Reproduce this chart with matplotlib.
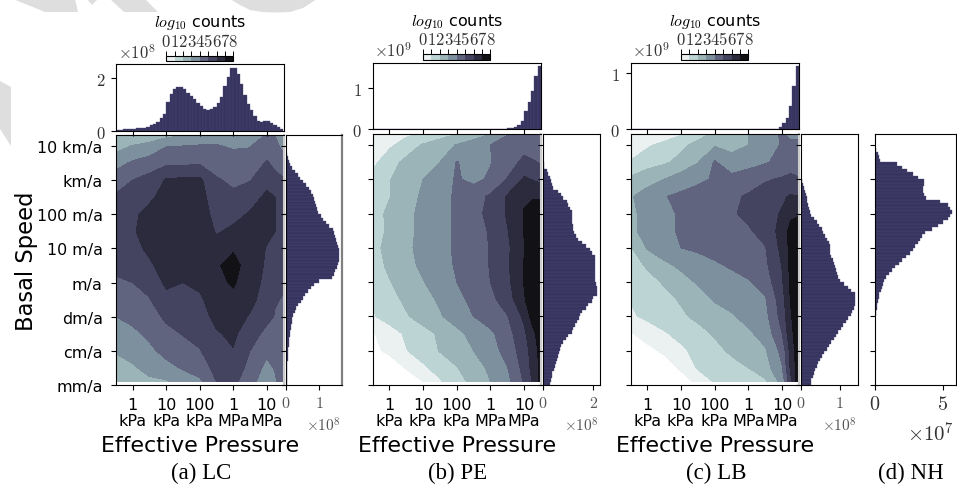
import numpy as np
import matplotlib
matplotlib.use("Agg")
import matplotlib.pyplot as plt
from matplotlib.colors import ListedColormap, BoundaryNorm
from matplotlib.patches import Polygon

plt.rcParams['font.family'] = 'DejaVu Sans'
plt.rcParams['mathtext.fontset'] = 'cm'

W, H = 957, 489

# grid of the contour data: log10 kPa across, decades above mm/a up
pressure = [-0.5, 0, 0.5, 1, 1.5, 2, 2.5, 3, 3.5, 4, 4.25, 4.5]
speed = [0.1, 0.5, 1, 1.5, 2, 2.5, 3, 3.5, 4, 4.5, 5, 5.5, 6, 6.5, 7, 7.32]

x_ticks = [0, 1, 2, 3, 4]
x_labels = ['1\nkPa', '10\nkPa', '100\nkPa', '1\nMPa', '10\nMPa']
y_ticks = [0, 1, 2, 3, 4, 5, 6, 7]
y_labels = ['mm/a', 'cm/a', 'dm/a', 'm/a', '10 m/a', '100 m/a', 'km/a', '10 km/a']
levels = [0, 1, 2, 3, 4, 5, 6, 7, 8]
band_colors = ['#eaf1f0', '#bcd5d4', '#9ab4b7', '#7d909d', '#61647f', '#454460', '#2c2b3d', '#111116']

# LC written column by column
lc_cols = [
    [2.4, 2.6, 3.08, 3.5, 4.0, 4.4, 4.85, 5.25, 5.5, 5.6, 5.5, 5.15, 4.5, 3.65, 2.6, 1.9],
    [2.6, 2.9, 3.3, 3.8, 4.25, 4.6, 5.0, 5.3, 5.7, 5.9, 5.85, 5.4, 5.0, 4.15, 3.05, 2.1],
    [2.85, 3.25, 3.8, 4.2, 4.55, 4.95, 5.3, 5.85, 6.2, 6.4, 6.25, 5.85, 5.3, 4.55, 3.2, 2.6],
    [2.9, 3.7, 4.3, 4.7, 5.2, 5.7, 6.2, 6.4, 6.6, 6.6, 6.5, 6.3, 6.1, 4.8, 3.95, 2.7],
    [3.4, 4.1, 4.6, 5.05, 5.3, 5.6, 6.0, 6.4, 6.7, 6.7, 6.6, 6.4, 6.2, 4.8, 4.0, 2.9],
    [3.8, 4.5, 4.95, 5.3, 5.55, 5.85, 6.2, 6.6, 6.8, 6.7, 6.6, 6.4, 6.2, 4.9, 4.1, 3.05],
    [5.0, 5.3, 5.5, 5.9, 6.3, 6.5, 6.8, 6.9, 6.4, 5.9, 5.6, 5.4, 5.1, 4.6, 4.05, 3.7],
    [5.2, 5.6, 5.95, 6.2, 6.5, 6.8, 7.1, 7.3, 6.9, 6.2, 5.7, 5.2, 4.8, 4.4, 3.9, 3.6],
    [4.5, 4.7, 5.0, 5.4, 5.9, 6.3, 6.5, 6.6, 6.5, 6.3, 6.1, 5.6, 4.95, 4.4, 3.95, 3.6],
    [3.2, 3.7, 4.25, 4.75, 5.25, 5.5, 5.7, 5.85, 5.95, 6.2, 6.3, 6.2, 5.7, 5.1, 4.5, 4.05],
    [3.8, 4.1, 4.4, 4.7, 4.95, 5.05, 5.4, 5.6, 5.9, 6.0, 6.0, 6.0, 5.3, 4.75, 4.3, 3.95],
    [5.0, 4.9, 4.7, 4.7, 4.8, 4.95, 5.1, 5.2, 5.3, 5.4, 5.4, 5.3, 5.1, 4.4, 3.7, 3.3],
]

# PE and LB written row by row, bottom row first
pe_rows = [
    [-2, -2, -1, 0, 0.9, 1.6, 2.3, 3, 3.7, 5.1, 6.1, 7.3],
    [-2, -1, 0.1, 0.8, 1.4, 1.95, 2.55, 3.2, 3.95, 5.35, 6.3, 7.3],
    [-0.4, 0.35, 0.95, 1.5, 2.05, 2.5, 3, 3.6, 4.35, 5.55, 6.4, 7.4],
    [-0.1, 0.55, 1.15, 1.65, 2.15, 2.75, 3.3, 3.8, 4.6, 5.8, 6.7, 7.6],
    [0.9, 1.4, 1.9, 2.4, 2.9, 3.45, 4, 4.5, 4.95, 6.2, 7.4, 7.8],
    [1.05, 1.65, 2.2, 2.65, 3.15, 3.75, 4.25, 4.75, 5.5, 6.9, 7.7, 7.9],
    [1.5, 1.95, 2.45, 2.95, 3.5, 4, 4.5, 5, 5.75, 7.05, 7.7, 7.9],
    [1.55, 2.2, 2.7, 3.2, 3.65, 4.1, 4.55, 5.05, 5.85, 7.05, 7.7, 7.9],
    [1.7, 2.3, 2.8, 3.3, 3.7, 4.15, 4.6, 5.05, 5.8, 6.95, 7.5, 7.8],
    [1.6, 2.15, 2.75, 3.25, 3.7, 4.15, 4.6, 5.1, 5.95, 7.05, 7.5, 7.7],
    [1.6, 2.2, 2.75, 3.25, 3.7, 4.15, 4.65, 5.3, 6.1, 7.05, 7.4, 7.6],
    [1.4, 1.95, 2.6, 3.15, 3.65, 4.15, 4.6, 5.15, 6.1, 6.9, 6.9, 6.9],
    [1.3, 1.95, 2.5, 3, 3.55, 4.1, 3.75, 4.15, 5.05, 6.15, 5.95, 5.7],
    [0.7, 1.6, 2.25, 2.6, 3, 4.05, 3.6, 3.95, 4.6, 5.2, 5.1, 4.9],
    [-0.1, 0.8, 1.45, 2.1, 2.6, 3.05, 3.5, 4, 4.4, 4.7, 4.5, 4.3],
    [0.3, 0.5, 0.8, 1.1, 1.5, 2, 2.5, 3, 3.95, 4.4, 4.3, 4.1],
]

lb_rows = [
    [-2, -2, -1.4, -0.6, 0.3, 1.1, 1.35, 1.6, 1.85, 3.4, 5.7, 7.8],
    [-2, -1.2, -0.6, 0.2, 1.1, 1.45, 1.7, 2, 2.55, 3.95, 6.15, 7.7],
    [-0.8, -0.3, 0.2, 0.8, 1.3, 1.75, 2.15, 2.5, 2.9, 4.3, 6.35, 7.7],
    [-0.1, 0.45, 0.9, 1.3, 1.7, 2.1, 2.5, 2.85, 3.35, 5, 6.7, 7.7],
    [0.85, 1.2, 1.5, 1.85, 2.2, 2.55, 2.9, 3.3, 3.7, 5.4, 6.9, 7.6],
    [1.05, 1.4, 1.75, 2.1, 2.6, 3.1, 3.35, 3.65, 3.9, 5.6, 7.05, 7.6],
    [1.3, 1.65, 2.1, 2.65, 3.1, 3.35, 3.6, 3.9, 4.45, 5.9, 7.2, 7.6],
    [1.5, 2.15, 2.8, 3.2, 3.5, 3.85, 4.15, 4.5, 4.8, 6.05, 7.25, 7.6],
    [1.9, 3.1, 3.55, 4, 4.2, 4.4, 4.55, 4.75, 4.95, 6.3, 7.3, 7.6],
    [2.8, 3.3, 3.8, 4.1, 4.3, 4.5, 4.7, 4.9, 5.35, 6.4, 7.3, 7.5],
    [2.8, 3.3, 3.8, 4.1, 4.35, 4.6, 4.9, 5.2, 5.6, 6.1, 6.8, 6.9],
    [2.9, 3.45, 3.95, 4.2, 4.4, 4.6, 4.85, 5.1, 5.45, 5.85, 6.1, 6],
    [2.2, 2.6, 3, 3.5, 3.8, 4.1, 4.35, 4.6, 4.9, 5.1, 5.2, 5.1],
    [1.1, 1.6, 1.85, 2.3, 2.95, 4.1, 3.3, 3.6, 3.9, 4.3, 4.6, 4.4],
    [0.2, 0.85, 1.3, 1.75, 2.3, 2.9, 2.75, 3, 3.5, 4.1, 4.3, 4.1],
    [0.1, -0.2, 0.4, 0.9, 1.6, 2.2, 2.6, 3, 3.6, 4.1, 3.7, 3.9],
]

# pressure histograms, bins 0.1 decade wide starting at -0.5
lc_top = [0.04, 0.05, 0.06, 0.07, 0.08, 0.09, 0.10, 0.11, 0.13, 0.15, 0.21, 0.25, 0.34, 0.49, 0.65, 1.09,
          1.41, 1.6, 1.67, 1.66, 1.57, 1.45, 1.32, 1.22, 1.07, 0.94, 0.84, 0.8, 0.82, 0.9, 1.07, 1.28,
          1.7, 2.04, 2.38, 2.38, 2.16, 1.79, 1.35, 1.03, 0.78, 0.57, 0.36, 0.34, 0.39, 0.39, 0.3, 0.21,
          0.15, 0.09]
pe_top = [0] * 39 + [0.008, 0.016, 0.03, 0.06, 0.10, 0.19, 0.45, 0.67, 0.93, 1.30, 1.54]
lb_top = [0] * 43 + [0.006, 0.03, 0.11, 0.19, 0.42, 0.77, 1.13]

# speed histograms, bins 0.1 decade wide starting at mm/a
lc_side = [0.02, 0.02, 0.03, 0.03, 0.03, 0.04, 0.04, 0.05, 0.05, 0.06,
           0.07, 0.08, 0.09, 0.10, 0.11, 0.12, 0.14, 0.15, 0.17, 0.19,
           0.22, 0.26, 0.31, 0.37, 0.45, 0.52, 0.58, 0.66, 0.74, 0.85,
           1.0, 1.37, 1.44, 1.48, 1.52, 1.56, 1.60, 1.6, 1.59, 1.58,
           1.55, 1.52, 1.5, 1.46, 1.44, 1.4, 1.3, 1.2, 1.1, 1.05,
           0.97, 0.93, 0.89, 0.87, 0.85, 0.82, 0.75, 0.68, 0.60, 0.52,
           0.42, 0.36, 0.28, 0.18, 0.12, 0.09, 0.05, 0.02, 0.01, 0]
pe_side = [0.29, 0.31, 0.34, 0.37, 0.43, 0.47, 0.50, 0.55, 0.60, 0.63,
           0.67, 0.72, 0.80, 0.90, 1.0, 1.13, 1.2, 1.28, 1.35, 1.42,
           1.47, 1.55, 1.7, 1.8, 1.93, 2.0, 2.13, 2.13, 2.13, 2.1,
           2.07, 2.05, 2.05, 2.05, 2.05, 2.05, 2.07, 2.07, 1.93, 1.85,
           1.7, 1.55, 1.4, 1.3, 1.22, 1.2, 1.18, 1.16, 1.15, 1.14,
           1.13, 1.08, 1.0, 0.95, 0.8, 0.72, 0.6, 0.4, 0.35, 0.3,
           0.27, 0.2, 0.14, 0.05, 0.02, 0.01, 0, 0, 0, 0]
lb_side = [0.25, 0.27, 0.30, 0.33, 0.36, 0.40, 0.44, 0.50, 0.55, 0.60,
           0.66, 0.72, 0.78, 0.84, 0.90, 0.96, 1.02, 1.08, 1.15, 1.22,
           1.28, 1.32, 1.36, 1.39, 1.39, 1.39, 1.38, 1.3, 1.22, 1.1,
           1.0, 0.96, 0.93, 0.90, 0.87, 0.85, 0.82, 0.78, 0.76, 0.75,
           0.74, 0.72, 0.68, 0.62, 0.57, 0.53, 0.47, 0.4, 0.33, 0.27,
           0.22, 0.2, 0.18, 0.16, 0.15, 0.14, 0.11, 0.08, 0.05, 0.03,
           0.01, 0.01, 0, 0, 0, 0, 0, 0, 0, 0]
nh_side = [0] * 20 + [0.07, 0.09, 0.12, 0.15, 0.2, 0.26, 0.33, 0.42, 0.5, 0.58,
           0.67, 0.85, 1.05, 1.23, 1.5, 1.75, 2.0, 2.3, 2.6, 2.8,
           2.96, 3.15, 3.3, 3.45, 3.7, 4.2, 4.7, 5.0, 5.4, 5.55,
           5.67, 5.55, 5.4, 4.8, 3.8, 3.65, 3.57, 3.57, 3.6, 3.62,
           3.2, 2.8, 2.34, 2.0, 1.6, 0.4, 0.32, 0.2, 0.05, 0.03,
           0.01, 0, 0, 0]

BAR = '#37345f'
BAR_EDGE = '#4d4b76'


def px_axes(fig, x0, y0, x1, y1):
    # pixel box, y measured from the top of the image
    return fig.add_axes([x0 / W, 1 - y1 / H, (x1 - x0) / W, (y1 - y0) / H])


def side_hist(ax, values, xmax, ticks, size=11.5, color='#555555'):
    edges = np.arange(len(values)) * 0.1
    ax.barh(edges, values, height=0.1, align='edge', color=BAR, edgecolor=BAR_EDGE, linewidth=0.25)
    ax.set_xlim(0, xmax)
    ax.set_ylim(0, 7.32)
    ax.set_yticks(y_ticks)
    ax.set_yticklabels([])
    ax.set_xticks(ticks)
    ax.set_xticklabels(['$%d$' % t for t in ticks], fontsize=size, color=color)


def panel(fig, grid, top, side, box, top_box, side_box, top_max, top_ticks, top_exp, side_max, side_ticks, caption, ylabels=False):
    ax = px_axes(fig, *box)
    # each panel gets its own norm, a shared one resets the other colorbars
    norm = BoundaryNorm(levels, cmap.N)
    cf = ax.contourf(pressure, speed, grid, levels=levels, cmap=cmap, norm=norm)
    ax.set_xlim(-0.5, 4.5)
    ax.set_ylim(0, 7.32)
    ax.set_xticks(x_ticks)
    ax.set_xticklabels(x_labels, fontsize=11.5, linespacing=1.1)
    ax.tick_params(axis='x', pad=5)
    ax.set_yticks(y_ticks)
    if ylabels:
        ax.set_yticklabels(y_labels, fontsize=11.4)
        ax.tick_params(axis='y', pad=6)
        ax.set_ylabel('Basal Speed', fontsize=16.3, labelpad=-1)
    else:
        ax.set_yticklabels([])
    ax.set_xlabel('Effective Pressure', fontsize=15.9, labelpad=5)
    ax.spines['right'].set_color('#cccccc')
    ax.spines['right'].set_linewidth(1.5)

    at = px_axes(fig, *top_box)
    edges = -0.5 + np.arange(len(top)) * 0.1
    at.bar(edges, top, width=0.1, align='edge', color=BAR, edgecolor=BAR_EDGE, linewidth=0.25)
    at.set_xlim(-0.5, 4.5)
    at.set_ylim(0, top_max)
    at.set_xticks(x_ticks)
    at.set_xticklabels([])
    at.set_yticks(top_ticks)
    at.set_yticklabels(['$%d$' % t for t in top_ticks], fontsize=12, color='#333333')
    at.tick_params(axis='y', pad=4)
    fig.text((top_box[0] + 2) / W, 1 - (top_box[1] - 2) / H, r'$\times 10^{%d}$' % top_exp, fontsize=12,
             ha='left', va='bottom', color='#333333')

    cb_x0 = box[0] + (box[2] - box[0]) * 0.3
    cb_x1 = box[0] + (box[2] - box[0]) * 0.7
    cax = px_axes(fig, cb_x0, top_box[1] - 8.5, cb_x1, top_box[1] - 3)
    cb = fig.colorbar(cf, cax=cax, orientation='horizontal', ticklocation='top')
    cb.set_ticks(levels)
    cb.set_ticklabels(['$%d$' % t for t in levels], fontsize=12, color='#333333')
    cax.tick_params(axis='x', pad=0.5, length=3.5, direction='out', width=0.7)
    cb.outline.set_linewidth(0.8)
    cb.set_label('$log_{10}$ counts', fontsize=11.5, labelpad=4)

    ar = px_axes(fig, *side_box)
    side_hist(ar, side, side_max, side_ticks)
    fig.text((side_box[2] - 1) / W, 1 - 426 / H, r'$\times 10^{8}$', fontsize=11, ha='right', va='center', color='#555555')
    fig.text(((box[0] + box[2]) / 2 + 1) / W, 1 - 473 / H, caption, fontsize=16.5, family='Liberation Serif',
             ha='center', va='center')
    return ar


cmap = ListedColormap(band_colors)

fig = plt.figure(figsize=(W / 100, H / 100), dpi=100)

# grey watermark behind the chart
wm = [
    [(0, 82), (11, 88), (11, 147), (0, 130)],
    [(13, 0), (45, 13), (78, 13), (75, 0)],
    [(87, 0), (92, 6), (98, 0)],
    [(110, 0), (124, 13), (158, 13), (145, 0)],
    [(230, 0), (240, 6), (250, 11), (262, 13), (275, 13.5), (290, 13), (303, 9), (317, 0)],
]
for pts in wm:
    fig.add_artist(Polygon([(p[0] / W, 1 - p[1] / H) for p in pts], closed=True, transform=fig.transFigure,
                           facecolor='#dedede', edgecolor='none', zorder=-5))

lc_grid = np.array(lc_cols).T
pe_grid = np.array(pe_rows)
lb_grid = np.array(lb_rows)

ar = panel(fig, lc_grid, lc_top, lc_side, (116, 136, 283.5, 386), (116, 65, 283.5, 132), (286, 136, 342, 386),
           2.53, [0, 2], 8, 1.68, [0, 1], '(a) LC', ylabels=True)
ar.spines['right'].set_color('#808080')
ar.spines['right'].set_linewidth(1.6)
panel(fig, pe_grid, pe_top, pe_side, (372.5, 135, 541, 386), (372.5, 63.5, 541, 130), (543, 135, 599.5, 386),
      1.63, [0, 1], 9, 2.24, [0, 2], '(b) PE')
panel(fig, lb_grid, lb_top, lb_side, (630.5, 135, 799, 386), (630.5, 63.5, 799, 130), (801, 135, 857.5, 386),
      1.19, [0, 1], 9, 1.457, [0, 1], '(c) LB')

ad = px_axes(fig, 875, 135, 955.5, 386)
side_hist(ad, nh_side, 5.96, [0, 5], size=14.5, color='#333333')
ad.tick_params(axis='x', pad=3)
fig.text(954 / W, 1 - 434 / H, r'$\times 10^{7}$', fontsize=15, ha='right', va='center', color='#333333')
fig.text(911 / W, 1 - 473 / H, '(d) NH', fontsize=16.5, family='Liberation Serif', ha='center', va='center')

fig.savefig('out.png', dpi=100)
